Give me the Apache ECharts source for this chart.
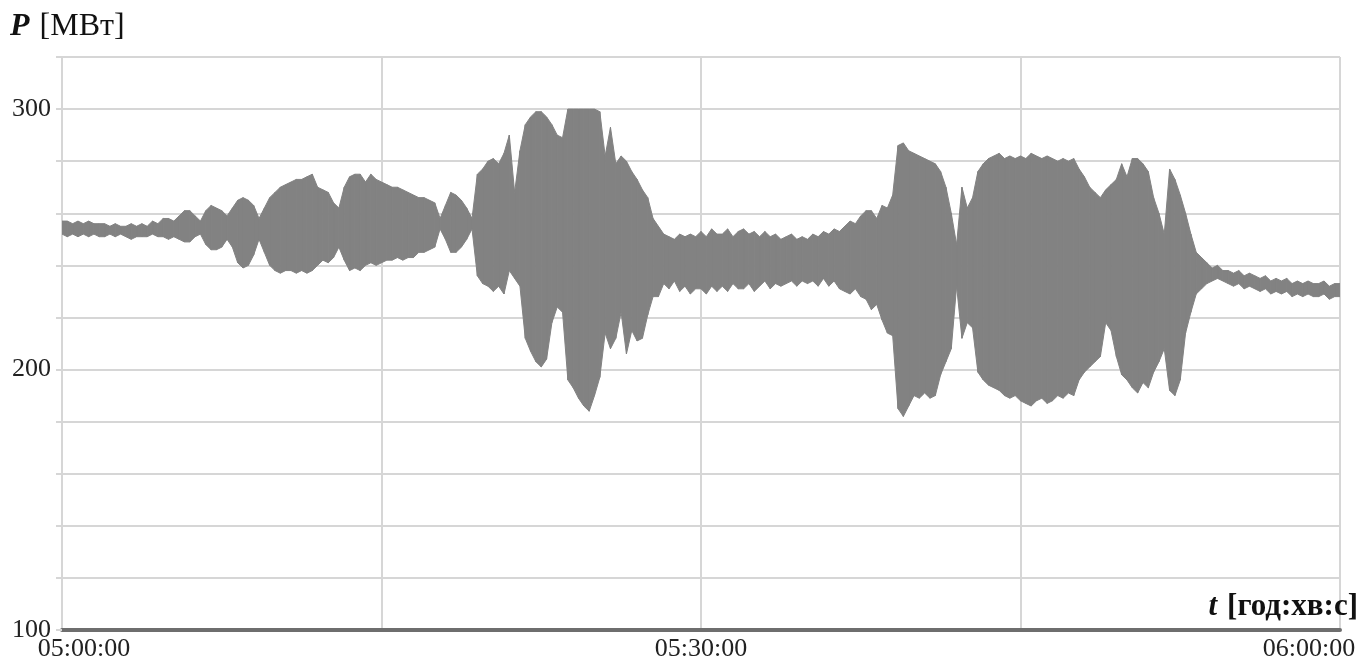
<!DOCTYPE html>
<html>
<head>
<meta charset="utf-8">
<script src="https://cdn.jsdelivr.net/npm/echarts@6/dist/echarts.min.js"></script>
<style>
  html, body { margin: 0; padding: 0; background: #ffffff; }
  #chart { width: 1361px; height: 662px; }
</style>
</head>
<body>
<div id="chart"></div>
<script>
// Active power swing, 05:00:00 – 06:00:00.
// Peaks (upper) and troughs (lower) of the oscillation every 15 s, MW.
const STEP = 15;

const upper = [
  257,257,256,257, 256,257,256,256, 256,255,256,255, 255,256,255,256, 255,257,256,258,
  258,257,259,261, 261,259,257,261, 263,262,261,259, 262,265,266,265, 263,258,262,266,
  268,270,271,272, 273,273,274,275, 270,269,268,264, 262,270,274,275, 275,272,275,273,
  272,271,270,270, 269,268,267,266, 266,265,264,258, 263,268,267,265, 262,258,275,277,
  280,281,279,283, 290,268,284,294, 297,299,299,297, 294,290,289,300, 300,300,300,300,
  300,299,282,293, 279,282,280,276, 273,269,266,258, 255,252,251,250, 252,251,252,251,
  253,251,254,252, 252,254,251,253, 254,252,253,251, 253,251,252,250, 251,252,250,251,
  250,252,251,253, 252,254,253,255, 257,256,259,261, 261,258,263,262, 267,286,287,284,
  283,282,281,280, 279,276,270,260, 248,270,262,266, 276,279,281,282, 283,281,282,281,
  282,281,283,282, 281,282,281,280, 281,280,281,277, 274,270,268,266, 269,271,273,279,
  274,281,281,279, 276,266,260,252, 277,273,267,260, 252,245,243,241, 239,240,238,238,
  237,238,236,237, 236,235,236,234, 235,234,235,233, 234,233,234,233, 233,234,232,233,
  233
];

const lower = [
  252,251,252,251, 252,251,252,251, 251,252,251,252, 251,250,251,251, 251,252,251,251,
  250,251,250,249, 249,251,252,248, 246,246,247,250, 247,241,239,240, 244,250,245,240,
  238,237,238,238, 237,238,237,238, 240,242,241,243, 247,242,238,239, 238,240,241,240,
  241,242,242,243, 242,243,243,245, 245,246,247,254, 250,245,245,247, 250,254,236,233,
  232,230,232,229, 238,235,232,212, 207,203,201,204, 218,224,222,196, 193,189,186,184,
  190,197,214,208, 212,222,206,215, 211,212,221,228, 228,233,231,234, 230,232,229,231,
  231,229,232,230, 232,230,233,231, 231,233,230,232, 234,231,233,232, 233,234,232,234,
  233,234,232,235, 232,234,231,230, 229,231,228,227, 223,225,219,214, 213,185,182,186,
  190,189,191,189, 190,198,203,208, 232,212,218,216, 199,196,194,193, 192,190,189,190,
  188,187,186,188, 189,187,188,190, 189,191,190,196, 199,201,203,205, 218,215,205,198,
  196,193,191,195, 193,199,203,208, 192,190,196,214, 222,229,231,233, 234,235,234,233,
  232,233,231,232, 231,230,231,229, 230,229,230,228, 229,228,229,228, 228,229,227,228,
  228
];

// Axis ticks
const xTickLabels = { 0: '05:00:00', 1800: '05:30:00', 3600: '06:00:00' };
const yTickLabels = [100, 200, 300];

// Swing band pieces: [t0, trough0, peak0, t1, trough1, peak1]
const bandPieces = [];
for (let i = 0; i + 1 < upper.length; i++) {
  bandPieces.push([i * STEP, lower[i], upper[i], (i + 1) * STEP, lower[i + 1], upper[i + 1]]);
}

const SERIF = '"Liberation Serif", "DejaVu Serif", serif';
const GRAY = '#828282';
const chart = echarts.init(document.getElementById('chart'), null, { renderer: 'canvas' });

chart.setOption({
  animation: false,
  backgroundColor: '#ffffff',
  grid: { left: 62, right: 21, top: 57, bottom: 31, containLabel: false },
  xAxis: {
    type: 'value',
    min: 0,
    max: 3600,
    interval: 900,
    axisLine: { show: true, onZero: false, lineStyle: { color: '#6e6e6e', width: 4 } },
    axisTick: { show: false },
    splitLine: { show: true, lineStyle: { color: '#d6d6d6', width: 2 } },
    axisLabel: {
      margin: 6,
      fontFamily: SERIF,
      fontSize: 26,
      color: '#222222',
      formatter: function (v) {
        const s = xTickLabels[v];
        if (!s) return '';
        if (v === 0) return '{first|' + s + '}';
        if (v === 3600) return '{last|' + s + '}';
        return s;
      },
      rich: {
        first: { fontFamily: SERIF, fontSize: 26, color: '#222222', padding: [0, 0, 0, 44] },
        last: { fontFamily: SERIF, fontSize: 26, color: '#222222', padding: [0, 62, 0, 0] }
      }
    }
  },
  yAxis: {
    type: 'value',
    min: 100,
    max: 320,
    interval: 20,
    axisLine: { show: true, lineStyle: { color: '#d6d6d6', width: 2 } },
    axisTick: { show: true, length: 6, lineStyle: { color: '#d6d6d6', width: 2 } },
    splitLine: { show: true, lineStyle: { color: '#d6d6d6', width: 2 } },
    axisLabel: {
      margin: 11,
      fontFamily: SERIF,
      fontSize: 26,
      color: '#222222',
      formatter: function (v) { return yTickLabels.indexOf(v) >= 0 ? String(v) : ''; }
    }
  },
  series: [{
    name: 'swing',
    type: 'custom',
    data: bandPieces,
    encode: { x: [0, 3], y: [1, 2, 4, 5] },
    clip: true,
    renderItem: function (params, api) {
      const t0 = api.value(0), lo0 = api.value(1), hi0 = api.value(2);
      const t1 = api.value(3), lo1 = api.value(4), hi1 = api.value(5);
      return {
        type: 'polygon',
        shape: {
          points: [
            api.coord([t0, hi0]),
            api.coord([t1, hi1]),
            api.coord([t1, lo1]),
            api.coord([t0, lo0])
          ]
        },
        style: { fill: GRAY, stroke: GRAY, lineWidth: 1 }
      };
    },
    z: 3
  }],
  graphic: [
    {
      type: 'text',
      left: 10,
      top: 11,
      z: 100,
      style: {
        text: '{p|P}{u|[МВт]}',
        rich: {
          p: { fontFamily: SERIF, fontSize: 32, fontStyle: 'italic', fontWeight: 'bold', fill: '#111111' },
          u: { fontFamily: SERIF, fontSize: 32, fill: '#111111', padding: [0, 0, 0, 10] }
        }
      }
    },
    {
      type: 'text',
      right: 3,
      top: 591,
      z: 100,
      style: {
        text: '{t|t}{u|[год:хв:с]}',
        rich: {
          t: { fontFamily: SERIF, fontSize: 31, fontStyle: 'italic', fontWeight: 'bold', fill: '#111111' },
          u: { fontFamily: SERIF, fontSize: 31, fontWeight: 'bold', fill: '#111111', padding: [0, 0, 0, 10] }
        }
      }
    }
  ]
});
</script>
</body>
</html>
